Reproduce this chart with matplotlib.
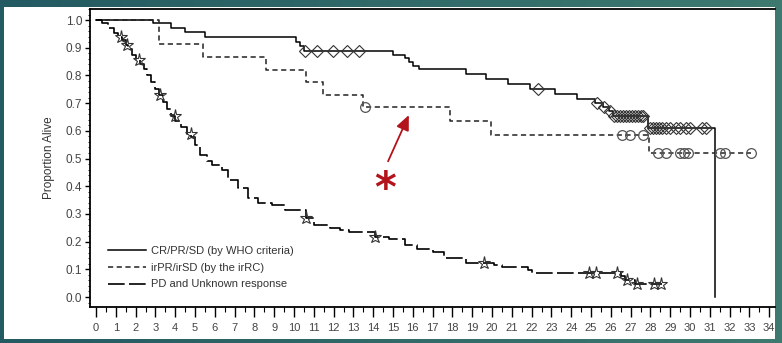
import numpy as np
import matplotlib.pyplot as plt
from matplotlib.ticker import MultipleLocator
from matplotlib.colors import LinearSegmentedColormap

plt.rcParams['font.family'] = ['Liberation Sans', 'DejaVu Sans']

# CR/PR/SD (by WHO criteria): step times and survival after each step
cr_t = [0, 2.9, 3.8, 4.5, 5.5, 10.1, 10.3, 10.5, 15.0, 15.6, 15.8, 16.0, 16.3,
        18.7, 19.7, 20.8, 21.9, 23.2, 24.3, 25.2, 25.6, 25.9, 26.1, 27.9, 31.26]
cr_s = [1.0, 0.988, 0.971, 0.956, 0.94, 0.92, 0.905, 0.889, 0.874, 0.862, 0.85, 0.835, 0.822,
        0.804, 0.786, 0.77, 0.75, 0.732, 0.714, 0.70, 0.685, 0.67, 0.655, 0.61, 0.0]
cr_cens = [10.56, 11.15, 11.98, 12.66, 13.3, 22.3, 25.3, 25.65, 25.95, 26.15, 26.3, 26.45,
           26.6, 26.75, 26.9, 27.05, 27.2, 27.35, 27.5, 27.65, 28.0, 28.15, 28.3, 28.45,
           28.6, 28.8, 29.0, 29.3, 29.5, 29.8, 30.0, 30.6, 30.8]

# irPR/irSD (by the irRC)
ir_t = [0, 3.2, 5.4, 8.6, 10.6, 11.45, 13.5, 17.9, 19.95, 27.95, 33.1]
ir_s = [1.0, 0.912, 0.865, 0.82, 0.778, 0.729, 0.685, 0.636, 0.585, 0.519, 0.519]
ir_cens = [13.6, 26.55, 26.97, 27.64, 28.4, 28.8, 29.5, 29.7, 29.9, 31.5, 31.75, 33.1]

# PD and Unknown response
pd_t = [0, 0.3, 0.6, 0.9, 1.1, 1.3, 1.5, 1.6, 1.8, 2.0, 2.2, 2.4, 2.6, 2.8, 3.0, 3.2,
        3.4, 3.6, 3.8, 4.0, 4.3, 4.6, 4.8, 5.0, 5.25, 5.6, 5.85, 6.35, 6.68, 7.19, 7.7,
        8.2, 8.87, 9.55, 10.6, 11.0, 11.8, 12.3, 12.8, 14.1, 14.8, 15.6, 16.2, 17.0,
        17.6, 18.7, 20.1, 20.5, 21.8, 22.0, 26.5, 26.7, 27.2, 28.6]
pd_s = [1.0, 0.99, 0.97, 0.955, 0.94, 0.928, 0.91, 0.897, 0.875, 0.855, 0.843, 0.825,
        0.80, 0.775, 0.75, 0.729, 0.705, 0.68, 0.655, 0.636, 0.615, 0.59, 0.579, 0.55,
        0.513, 0.49, 0.477, 0.458, 0.422, 0.392, 0.356, 0.338, 0.332, 0.314, 0.284, 0.26,
        0.248, 0.242, 0.236, 0.218, 0.208, 0.188, 0.172, 0.164, 0.14, 0.124, 0.116,
        0.107, 0.097, 0.088, 0.075, 0.061, 0.047, 0.047]
pd_cens = [1.25, 1.55, 2.19, 3.23, 3.99, 4.78, 10.6, 14.1, 19.6, 24.9, 25.25, 26.3,
           26.8, 27.3, 28.2, 28.55]

labels = ['CR/PR/SD (by WHO criteria)', 'irPR/irSD (by the irRC)', 'PD and Unknown response']


def at(t, s, tc):
    idx = np.searchsorted(t, tc, side='right') - 1
    return np.asarray(s)[idx]


fig = plt.figure(figsize=(7.82, 3.43), dpi=100)

# teal gradient background with white panel
bg = fig.add_axes([0, 0, 1, 1], zorder=-3)
grad = np.linspace(0, 1, 256).reshape(1, -1)
cmap = LinearSegmentedColormap.from_list('teal', ['#245a62', '#3e7a70'])
bg.imshow(grad, aspect='auto', cmap=cmap, extent=[0, 1, 0, 1])
bg.axis('off')
panel = fig.add_axes([0.005, 0.0117, 0.986, 0.968], zorder=-2)
panel.set_facecolor('white')
panel.set_xticks([])
panel.set_yticks([])
for sp in panel.spines.values():
    sp.set_visible(False)

ax = fig.add_axes([0.1151, 0.105, 0.8759, 0.870])
ax.patch.set_alpha(0)

l1, = ax.step(cr_t, cr_s, where='post', color='black', lw=1.1)
l2, = ax.step(ir_t, ir_s, where='post', color='#222222', lw=1.1, dashes=(3.4, 2.3))
l3, = ax.step(pd_t, pd_s, where='post', color='black', lw=1.2, dashes=(10, 2.6))

ax.plot(cr_cens, at(cr_t, cr_s, cr_cens), ls='none', marker='D', ms=6.5,
        mfc='none', mec='#333333', mew=0.8)
ax.plot(ir_cens, at(ir_t, ir_s, ir_cens), ls='none', marker='o', ms=7,
        mfc='none', mec='#555555', mew=0.9)
ax.plot(pd_cens, at(pd_t, pd_s, pd_cens), ls='none', marker='*', ms=9.5,
        mfc='none', mec='#333333', mew=0.8)

ax.set_xlim(-0.303, 34.29)
ax.set_ylim(-0.036, 1.0416)
ax.xaxis.set_major_locator(MultipleLocator(1))
ax.xaxis.set_minor_locator(MultipleLocator(0.5))
ax.yaxis.set_minor_locator(MultipleLocator(0.02))
ax.set_yticks(np.arange(0, 1.01, 0.1))
ax.set_yticklabels([f'{v:.1f}' for v in np.arange(0, 1.01, 0.1)])
ax.tick_params(axis='x', which='major', length=7, width=1.0, pad=4.5,
               labelsize=8, labelcolor='#444444')
ax.tick_params(axis='x', which='minor', length=3.5, width=0.8)
ax.tick_params(axis='y', which='major', length=3.6, width=1.0, pad=2,
               labelsize=8.5, labelcolor='#444444')
ax.tick_params(axis='y', which='minor', length=1.8, width=0.6)
ax.spines['right'].set_visible(False)
for s in ['left', 'bottom', 'top']:
    ax.spines[s].set_linewidth(1.3)

ax.set_ylabel('Proportion Alive', fontsize=8.5, color='#333333', labelpad=8)

ax.legend([l1, l2, l3], labels, loc='lower left', bbox_to_anchor=(0.018, 0.04),
          frameon=False, fontsize=8, handlelength=3.4, handletextpad=0.5,
          labelspacing=0.62, borderpad=0, labelcolor='#333333')

ax.annotate('', xy=(15.8, 0.657), xytext=(14.75, 0.49),
            arrowprops=dict(arrowstyle='-|>,head_length=0.9,head_width=0.4',
                            color='#b3141c', lw=1.3, shrinkA=0, shrinkB=0))
ax.text(14.6, 0.385, '*', color='#b3141c', fontsize=30, ha='center', va='center',
        family='DejaVu Sans', fontweight='bold')

fig.savefig('out.png', dpi=100)
